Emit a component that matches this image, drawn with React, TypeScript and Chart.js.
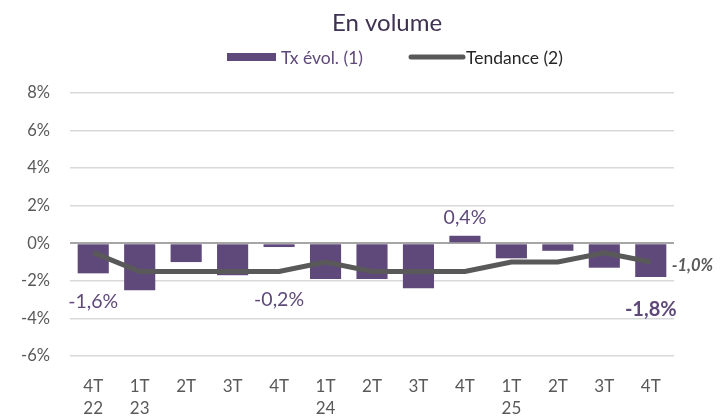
import React, { useEffect, useRef } from "react";
import { Chart, registerables } from "chart.js";

Chart.register(...registerables);

const quarters: string[][] = [
  ["4T", "22"], ["1T", "23"], ["2T"], ["3T"], ["4T"], ["1T", "24"], ["2T"], ["3T"], ["4T"], ["1T", "25"], ["2T"], ["3T"], ["4T"],
];
const txEvol: number[] = [-1.6, -2.5, -1.0, -1.7, -0.2, -1.9, -1.9, -2.4, 0.4, -0.8, -0.4, -1.3, -1.8];
const tendance: number[] = [-0.5, -1.5, -1.5, -1.5, -1.5, -1.0, -1.5, -1.5, -1.5, -1.0, -1.0, -0.5, -1.0];
const yTicks: number[] = [-6, -4, -2, 0, 2, 4, 6, 8];
const labelledBars: number[] = [0, 4, 8, 12];

const PURPLE = "#5F497A";
const GREY = "#595959";
const FONT = "Lato, 'Open Sans', sans-serif";

const fmt = (v: number) => (v < 0 ? "-" : "") + Math.abs(v).toFixed(1).replace(".", ",") + "%";

const overlay = {
  id: "overlay",
  afterDraw(chart: any) {
    const ctx = chart.ctx as CanvasRenderingContext2D;
    const x = chart.scales.x;
    const y = chart.scales.y;
    ctx.save();
    // title
    ctx.fillStyle = "#3F3151";
    ctx.font = `24px ${FONT}`;
    ctx.textAlign = "center";
    ctx.textBaseline = "middle";
    ctx.fillText("En volume", 387, 23);
    // legend
    ctx.fillStyle = PURPLE;
    ctx.fillRect(227, 53, 49, 8);
    ctx.font = `17.5px ${FONT}`;
    ctx.textAlign = "left";
    ctx.fillText("Tx évol. (1)", 281, 58);
    ctx.strokeStyle = GREY;
    ctx.lineWidth = 5;
    ctx.lineCap = "round";
    ctx.beginPath();
    ctx.moveTo(411, 57);
    ctx.lineTo(463, 57);
    ctx.stroke();
    ctx.fillStyle = "#262626";
    ctx.fillText("Tendance (2)", 466, 58);
    // data labels
    ctx.textAlign = "center";
    labelledBars.forEach((i) => {
      const v = txEvol[i];
      const last = i === txEvol.length - 1;
      ctx.font = `${last ? "bold " : ""}${last ? 20 : 19.5}px ${FONT}`;
      ctx.fillStyle = PURPLE;
      let ly: number;
      if (v > 0) ly = y.getPixelForValue(v) - 18;
      else ly = Math.max(y.getPixelForValue(v) + 28, y.getPixelForValue(-3.0));
      ctx.fillText(fmt(v), x.getPixelForValue(i), ly + (last ? 4 : 0));
    });
    // trend last label
    const li = tendance.length - 1;
    ctx.font = `italic bold 16.5px ${FONT}`;
    ctx.fillStyle = GREY;
    ctx.textAlign = "left";
    ctx.fillText(fmt(tendance[li]), x.getPixelForValue(li) + 21, y.getPixelForValue(tendance[li]) + 4);
    ctx.restore();
  },
};

export default function App() {
  const ref = useRef<HTMLCanvasElement>(null);
  useEffect(() => {
    if (!ref.current) return;
    const chart = new Chart(ref.current, {
      type: "bar",
      data: {
        labels: quarters,
        datasets: [
          {
            type: "line",
            label: "Tendance (2)",
            data: tendance,
            borderColor: GREY,
            borderWidth: 5,
            pointRadius: 0,
            tension: 0,
            order: 0,
          } as any,
          {
            type: "bar",
            label: "Tx évol. (1)",
            data: txEvol,
            backgroundColor: PURPLE,
            categoryPercentage: 1,
            barPercentage: 0.67,
            order: 1,
          },
        ],
      },
      options: {
        responsive: false,
        animation: false,
        layout: { padding: { top: 93, right: 46, left: 0, bottom: 0 } },
        plugins: { legend: { display: false }, title: { display: false }, tooltip: { enabled: false } },
        scales: {
          x: {
            grid: { display: false },
            border: { display: false },
            ticks: { color: GREY, font: { family: FONT, size: 17, lineHeight: 1.3 }, padding: 11, maxRotation: 0, autoSkip: false },
            afterFit: (s: any) => { s.height = 63; },
          },
          y: {
            min: -6,
            max: 8,
            afterBuildTicks: (s: any) => { s.ticks = yTicks.map((v) => ({ value: v })); },
            ticks: { color: GREY, font: { family: FONT, size: 16.5 }, padding: 20, callback: (v: any) => `${v}%` },
            grid: {
              drawTicks: false,
              color: (c: any) => (c.tick && c.tick.value === 0 ? "#A6A6A6" : "#D9D9D9"),
              lineWidth: (c: any) => (c.tick && c.tick.value === 0 ? 2 : 1.5),
            },
            border: { display: false },
            afterFit: (s: any) => { s.width = 70; },
          },
        },
      },
      plugins: [overlay],
    });
    return () => chart.destroy();
  }, []);
  return (
    <div style={{ position: "absolute", left: 0, top: 0, width: 720, height: 419, background: "#fff" }}>
      <canvas ref={ref} width={720} height={419} />
    </div>
  );
}
